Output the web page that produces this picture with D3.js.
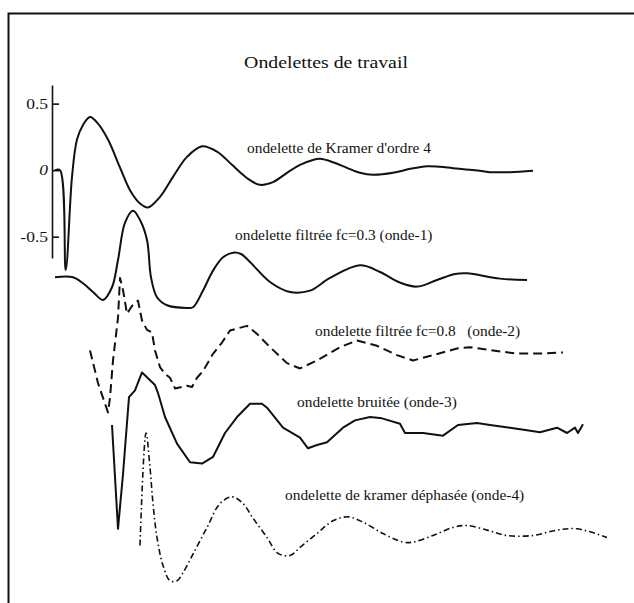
<!DOCTYPE html>
<html>
<head>
<meta charset="utf-8">
<script src="https://cdn.jsdelivr.net/npm/d3@7"></script>
<style>
  html, body { margin: 0; padding: 0; background: #fff; }
  svg { display: block; }
  text { font-family: "Liberation Serif", "DejaVu Serif", serif; fill: #111; }
</style>
</head>
<body>
<svg id="chart" width="634" height="603"></svg>
<script>
// Ondelettes de travail - five wavelets stacked with vertical offsets

const title = 'Ondelettes de travail';
const yTicks = [0.5, 0, -0.5];
const yTickLabels = ['0.5', '0', '-0.5'];

// onde-0 : ondelette de Kramer d'ordre 4
const kramerT = [0, 5, 10.7, 17, 22, 28, 35, 43, 53, 65, 75, 85, 93, 105, 118, 132, 147, 162, 177, 185, 195, 205, 218, 232, 245, 258, 265, 278, 292, 305, 318, 338, 355, 372, 385, 398, 420, 435, 455, 478];
const kramerV = [0, 0, -0.75, -0.05, 0.23, 0.34, 0.40, 0.35, 0.23, 0.02, -0.15, -0.25, -0.28, -0.20, -0.05, 0.10, 0.18, 0.14, 0.04, -0.015, -0.075, -0.11, -0.09, -0.02, 0.04, 0.077, 0.085, 0.06, 0.017, -0.02, -0.035, -0.02, 0.01, 0.03, 0.025, 0.015, 0, -0.015, -0.015, -0.005];

// onde-1 : filtree fc=0.3
const onde1T = [0, 18, 28, 38, 48, 57, 63, 70, 78, 85, 92, 96, 102, 112, 132, 138, 148, 158, 168, 178, 186, 195, 215, 235, 255, 275, 305, 325, 345, 362, 382, 400, 412, 445, 472];
const onde1V = [0, 0, -0.045, -0.11, -0.17, -0.075, 0.13, 0.41, 0.50, 0.43, 0.28, 0, -0.15, -0.21, -0.23, -0.225, -0.10, 0.05, 0.15, 0.185, 0.175, 0.115, -0.035, -0.11, -0.10, -0.005, 0.09, 0.04, -0.04, -0.07, -0.02, 0.025, 0.03, -0.01, -0.02];

// onde-2 : filtree fc=0.8
const onde2T = [35, 43, 53, 55, 58, 63, 65, 68, 72, 77, 83, 87, 92, 97, 100, 105, 110, 115, 120, 132, 137, 142, 148, 158, 167, 175, 182, 192, 202, 215, 232, 245, 262, 285, 302, 322, 342, 358, 378, 402, 415, 438, 462, 485, 508];
const onde2V = [0.015, -0.23, -0.45, -0.34, -0.06, 0.26, 0.56, 0.47, 0.29, 0.35, 0.39, 0.24, 0.17, 0.15, 0.015, -0.11, -0.16, -0.19, -0.27, -0.25, -0.26, -0.19, -0.14, -0.01, 0.075, 0.165, 0.18, 0.20, 0.14, 0.04, -0.08, -0.12, -0.06, 0.04, 0.09, 0.05, -0.02, -0.06, -0.02, 0.03, 0.04, 0.015, -0.008, -0.008, 0];

// onde-3 : bruitee
const onde3T = [57, 63, 68, 74, 80, 87, 100, 103, 110, 122, 135, 147, 158, 170, 182, 195, 207, 212, 228, 245, 253, 262, 272, 288, 300, 315, 327, 345, 350, 368, 388, 403, 422, 435, 455, 472, 485, 502, 512, 520, 523, 528];
const onde3V = [0.04, -0.74, -0.33, 0.25, 0.30, 0.435, 0.34, 0.28, 0.10, -0.10, -0.24, -0.25, -0.20, -0.02, 0.10, 0.20, 0.20, 0.17, 0.02, -0.055, -0.135, -0.11, -0.09, 0.02, 0.075, 0.10, 0.09, 0.05, -0.02, -0.02, -0.04, 0.04, 0.055, 0.04, 0.02, 0, -0.015, 0.02, -0.02, 0.02, -0.02, 0.045];

// onde-4 : Kramer dephasee
const onde4T = [85, 91, 95, 98, 102, 108, 115, 122, 128, 138, 152, 165, 177, 188, 198, 212, 223, 235, 245, 262, 278, 293, 308, 328, 348, 358, 378, 398, 412, 432, 452, 478, 502, 522, 552];
const onde4V = [-0.075, 0.77, 0.51, 0.24, -0.015, -0.225, -0.34, -0.34, -0.28, -0.14, 0.06, 0.24, 0.29, 0.24, 0.13, -0.015, -0.135, -0.15, -0.09, 0.015, 0.11, 0.14, 0.10, 0.015, -0.05, -0.05, 0, 0.06, 0.075, 0.04, 0, 0, 0.04, 0.05, -0.015];

const seriesNames = ['kramer', 'onde-1', 'onde-2', 'onde-3', 'onde-4'];
const seriesOffsets = [0, -0.805, -1.37, -1.955, -2.745];
const seriesLabels = [
  "ondelette de Kramer d'ordre 4",
  'ondelette filtrée fc=0.3 (onde-1)',
  'ondelette filtrée fc=0.8   (onde-2)',
  'ondelette bruitée (onde-3)',
  'ondelette de kramer déphasée (onde-4)'
];
// label anchor in data coords (t, value incl. offset)
const labelT = [192, 180, 260, 242, 230];
const labelV = [0.13, -0.525, -1.245, -1.78, -2.48];

const svg = d3.select('#chart');

const x = d3.scaleLinear().domain([0, 500]).range([55, 555]);
const y = d3.scaleLinear().domain([-0.66, 0.64]).range([258, 85]);

// the scanned page is a little wider than tall, so the type is stretched
const stretch = 1.1;

// frame (left and top edges of the scanned box)
svg.append('path')
  .attr('d', 'M8.5,603 V13.5 H634')
  .attr('fill', 'none').attr('stroke', '#111').attr('stroke-width', 2);

svg.append('text')
  .attr('transform', `translate(326,68) scale(1.2,1)`)
  .attr('text-anchor', 'middle')
  .style('font-size', '16.5px')
  .text(title);

// y axis : ticks point inward, labels on the left
const axis = d3.axisLeft(y).tickValues(yTicks).tickSize(-7).tickSizeOuter(0).tickPadding(4)
  .tickFormat((d, i) => yTickLabels[i]);
const gAxis = svg.append('g').attr('transform', 'translate(52,0)').call(axis);
gAxis.select('.domain').attr('stroke', '#111').attr('stroke-width', 1.6);
gAxis.selectAll('.tick line').attr('stroke', '#111').attr('stroke-width', 1.6);
gAxis.selectAll('.tick text')
  .attr('x', 0)
  .attr('transform', 'translate(-4,0) scale(1.25,1)')
  .style('font-family', '"Liberation Serif", serif')
  .style('font-size', '14px')
  .attr('fill', '#111')
  .style('font-style', d => d === 0 ? 'italic' : 'normal');

const allT = [kramerT, onde1T, onde2T, onde3T, onde4T];
const allV = [kramerV, onde1V, onde2V, onde3V, onde4V];
const dashes = [null, null, '9,5', null, '6,3,1.5,3'];
const curves = [d3.curveCatmullRom.alpha(0.5), d3.curveCatmullRom.alpha(0.5), d3.curveLinear, d3.curveLinear, d3.curveCatmullRom.alpha(0.5)];

seriesNames.forEach((name, i) => {
  const pts = allT[i].map((t, j) => ({ t, v: allV[i][j] + seriesOffsets[i] }));
  const line = d3.line().x(d => x(d.t)).y(d => y(d.v)).curve(curves[i]);
  svg.append('path')
    .datum(pts)
    .attr('class', 'wave ' + name)
    .attr('d', line)
    .attr('fill', 'none')
    .attr('stroke', '#111')
    .attr('stroke-width', i === 4 ? 1.6 : 2)
    .attr('stroke-linejoin', 'round')
    .attr('stroke-dasharray', dashes[i]);

  svg.append('text')
    .attr('transform', `translate(${x(labelT[i])},${y(labelV[i])}) scale(${stretch},1)`)
    .style('font-size', '14px')
    .attr('xml:space', 'preserve')
    .text(seriesLabels[i]);
});
</script>
</body>
</html>
